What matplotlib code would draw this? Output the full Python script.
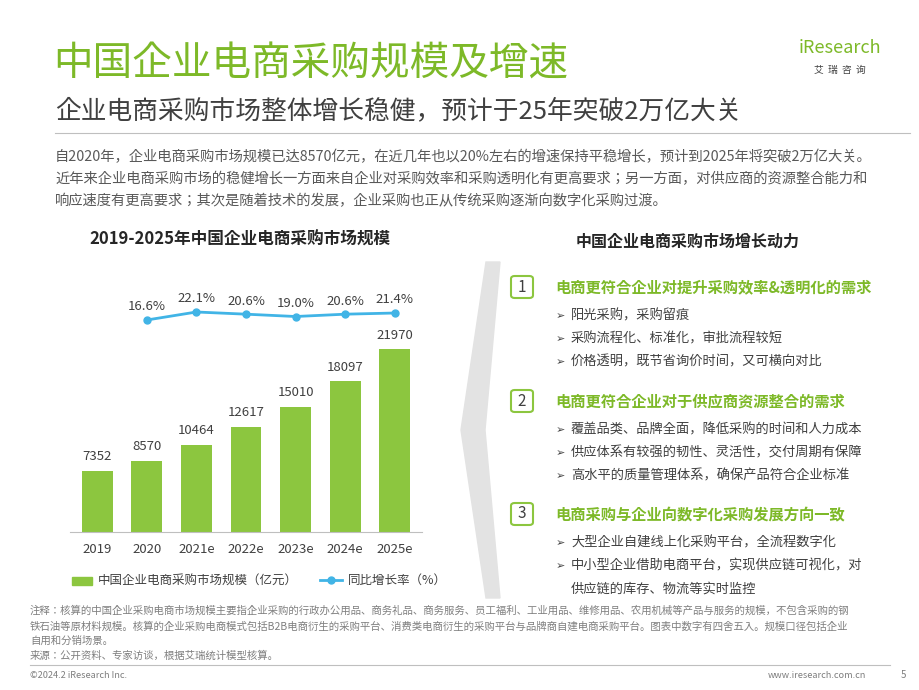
import matplotlib
matplotlib.use("Agg")
import matplotlib.pyplot as plt
from matplotlib.patches import Polygon, FancyBboxPatch
from matplotlib.lines import Line2D
from matplotlib import font_manager

names = {f.name for f in font_manager.fontManager.ttflist}
cjk = [n for n in ["Noto Sans CJK SC", "Noto Sans CJK JP", "Noto Sans CJK TC", "Noto Sans CJK KR"] if n in names]
plt.rcParams['font.family'] = 'sans-serif'
plt.rcParams['font.sans-serif'] = cjk + ['DejaVu Sans']

years = ["2019", "2020", "2021e", "2022e", "2023e", "2024e", "2025e"]
scale = [7352, 8570, 10464, 12617, 15010, 18097, 21970]
growth = [None, 16.6, 22.1, 20.6, 19.0, 20.6, 21.4]

W, H = 920, 690
fig = plt.figure(figsize=(9.2, 6.9), dpi=100)
GREEN = "#8CC63F"
TGREEN = "#7DB928"
BLUE = "#41B4E6"
GRAY = "#595959"

def T(x, y, s, **kw):
    fig.text(x / W, 1 - y / H, s, **kw)

# header
T(53, 65, "中国企业电商采购规模及增速", fontsize=28.5, color=TGREEN, va='center')
T(55, 111, "企业电商采购市场整体增长稳健，预计于25年突破2万亿大关", fontsize=18.5, color="#404040", va='center')
fig.add_artist(Line2D([55/W, 910/W], [1-133/H, 1-133/H], color="#BFBFBF", lw=0.8))
T(840, 48, "iResearch", fontsize=13, color=TGREEN, ha='center', va='center', style='italic')
T(840, 70, "艾  瑞  咨  询", fontsize=7, color="#404040", ha='center', va='center')

para = ["自2020年，企业电商采购市场规模已达8570亿元，在近几年也以20%左右的增速保持平稳增长，预计到2025年将突破2万亿大关。",
        "近年来企业电商采购市场的稳健增长一方面来自企业对采购效率和采购透明化有更高要求；另一方面，对供应商的资源整合能力和",
        "响应速度有更高要求；其次是随着技术的发展，企业采购也正从传统采购逐渐向数字化采购过渡。"]
for i, s in enumerate(para):
    T(55, 157 + i * 22, s, fontsize=10.3, color=GRAY, va='center')

# chart
T(240, 240, "2019-2025年中国企业电商采购市场规模", fontsize=12, color="#262626", ha='center', va='center', weight='bold')
ax = fig.add_axes([70 / W, 1 - 532 / H, 352 / W, 252 / H])
x = list(range(len(years)))
ax.bar(x, scale, width=0.62, color=GREEN)
ax.set_ylim(0, 30254)
ax.set_xlim(-0.55, 6.55)
for xi, v in zip(x, scale):
    ax.text(xi, v + 900, str(v), ha='center', va='bottom', fontsize=9.5, color="#404040")
for s in ['top', 'right', 'left']:
    ax.spines[s].set_visible(False)
ax.spines['bottom'].set_color("#BFBFBF")
ax.set_yticks([])
ax.set_xticks(x)
ax.set_xticklabels(years, fontsize=9.5, color="#404040")
ax.tick_params(axis='x', length=0, pad=8)
ax2 = ax.twinx()
ax2.set_ylim(-129.15, 44.1)
gx = [xi for xi, g in zip(x, growth) if g is not None]
gy = [g for g in growth if g is not None]
ax2.plot(gx, gy, color=BLUE, lw=2, marker='o', ms=5)
for xi, g in zip(gx, gy):
    ax2.text(xi, g + 4.5, f"{g:.1f}%", ha='center', va='bottom', fontsize=9.5, color="#404040")
ax2.axis('off')

# legend
fig.add_artist(FancyBboxPatch((72/W, 1-585/H), 20/W, 8/H, boxstyle='square,pad=0', color=GREEN))
T(98, 580, "中国企业电商采购市场规模（亿元）", fontsize=9, color="#404040", va='center')
fig.add_artist(Line2D([320/W, 342/W], [1-580/H, 1-580/H], color=BLUE, lw=2))
fig.add_artist(Line2D([331/W], [1-580/H], color=BLUE, marker='o', ms=5))
T(348, 580, "同比增长率（%）", fontsize=9, color="#404040", va='center')

# chevron
fig.add_artist(Polygon([(500/W, 1-262/H), (486/W, 1-262/H), (461/W, 1-430/H), (486/W, 1-598/H), (500/W, 1-598/H), (485/W, 1-430/H)],
                       closed=True, color="#E3E3E3", transform=fig.transFigure))

# right panel
T(688, 242, "中国企业电商采购市场增长动力", fontsize=11.5, color="#262626", ha='center', va='center', weight='bold')
sections = [
    (287, "电商更符合企业对提升采购效率&透明化的需求", 316, ["阳光采购，采购留痕", "采购流程化、标准化，审批流程较短", "价格透明，既节省询价时间，又可横向对比"]),
    (401, "电商更符合企业对于供应商资源整合的需求", 430, ["覆盖品类、品牌全面，降低采购的时间和人力成本", "供应体系有较强的韧性、灵活性，交付周期有保障", "高水平的质量管理体系，确保产品符合企业标准"]),
    (514, "电商采购与企业向数字化采购发展方向一致", 543, ["大型企业自建线上化采购平台，全流程数字化", "中小型企业借助电商平台，实现供应链可视化，对", "  供应链的库存、物流等实时监控"]),
]
for n, (yh, head, yb, items) in enumerate(sections, 1):
    fig.add_artist(FancyBboxPatch((511/W, 1-(yh+11)/H), 22/W, 22/H, boxstyle='round,pad=0,rounding_size=0.004',
                                  fill=False, ec=GREEN, lw=1.5, transform=fig.transFigure))
    T(522, yh, str(n), fontsize=11, color="#404040", ha='center', va='center')
    T(555, yh, head, fontsize=11, color=TGREEN, va='center', weight='bold')
    for i, s in enumerate(items):
        yy = yb + i * 23
        if not s.startswith("  "):
            T(556, yy, "➢", fontsize=8, color="#404040", va='center', family='DejaVu Sans')
        T(571, yy, s.strip(), fontsize=9.5, color="#404040", va='center')

# footnotes
notes = ["注释：核算的中国企业采购电商市场规模主要指企业采购的行政办公用品、商务礼品、商务服务、员工福利、工业用品、维修用品、农用机械等产品与服务的规模，不包含采购的钢",
         "铁石油等原材料规模。核算的企业采购电商模式包括B2B电商衍生的采购平台、消费类电商衍生的采购平台与品牌商自建电商采购平台。图表中数字有四舍五入。规模口径包括企业",
         "自用和分销场景。",
         "来源：公开资料、专家访谈，根据艾瑞统计模型核算。"]
for i, s in enumerate(notes):
    T(30, 611 + i * 15, s, fontsize=7.5, color="#7F7F7F", va='center')
fig.add_artist(Line2D([30/W, 890/W], [1-665/H, 1-665/H], color="#BFBFBF", lw=0.8))
T(30, 675, "©2024.2 iResearch Inc.", fontsize=6.6, color="#7F7F7F", va='center')
T(866, 675, "www.iresearch.com.cn", fontsize=6.6, color="#7F7F7F", va='center', ha='right')
T(903, 675, "5", fontsize=7, color="#7F7F7F", va='center', ha='center')

fig.savefig("out.png", dpi=100)
